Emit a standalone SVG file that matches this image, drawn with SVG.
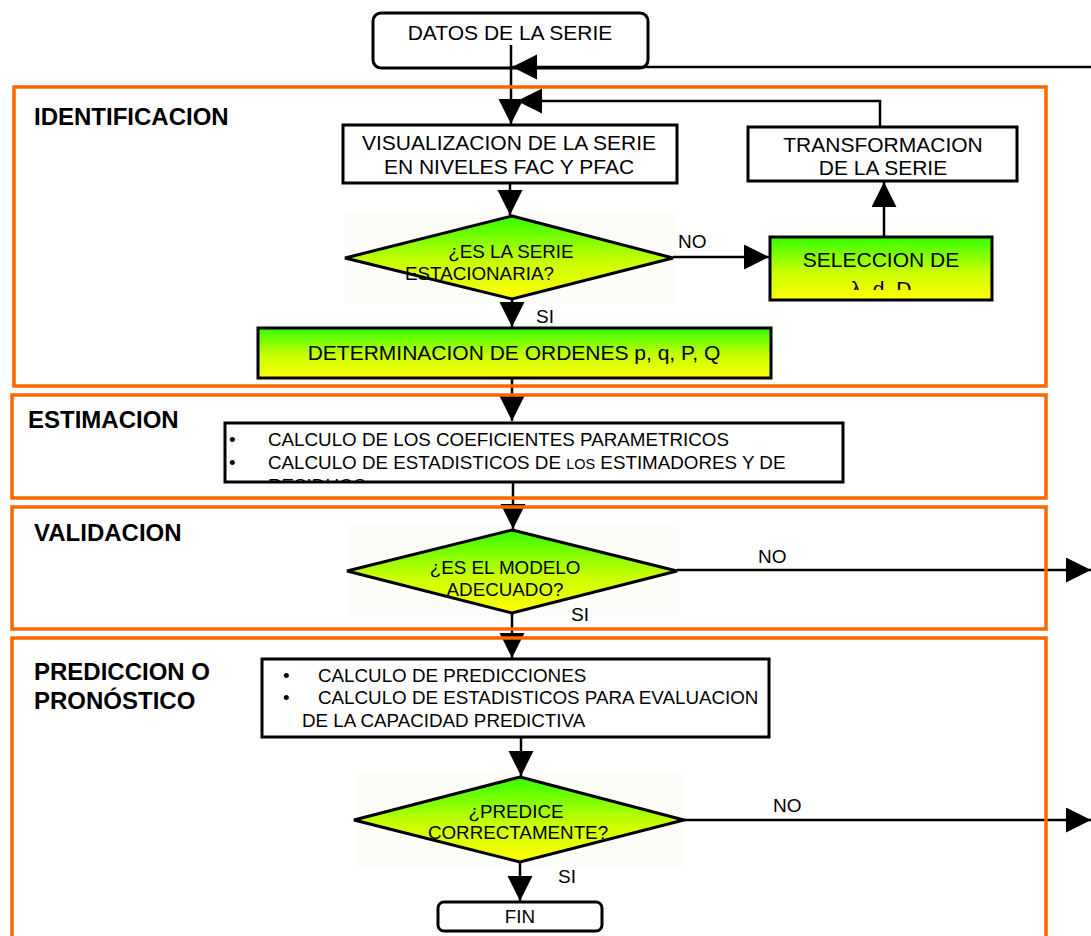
<svg xmlns="http://www.w3.org/2000/svg" width="1091" height="936" viewBox="0 0 1091 936">
<style>
.box{fill:#fff;stroke:#000;stroke-width:3}
.gy{fill:url(#gy);stroke:#000;stroke-width:3}
.lane{fill:none;stroke:#FF6600;stroke-width:3.5}
.ln{fill:none;stroke:#000;stroke-width:2.5}
.t{font-family:"Liberation Sans",Arial,sans-serif;font-size:21px;fill:#000}
.c{text-anchor:middle}
.s{font-size:18.8px}
.m{font-size:19px}
.h{font-weight:bold;font-size:24px}
.halo{fill:#fcfcf8}
</style>
<defs>
<linearGradient id="gy" x1="0" y1="0" x2="0" y2="1">
<stop offset="0" stop-color="#33ff00"/>
<stop offset="0.55" stop-color="#c8ff00"/>
<stop offset="1" stop-color="#ffff00"/>
</linearGradient>
<marker id="ah" markerUnits="userSpaceOnUse" markerWidth="26" markerHeight="26" refX="25" refY="12.5" orient="auto" viewBox="0 0 26 26">
<path d="M0,0 L25,12.5 L0,25 Z" fill="#000"/>
</marker>
<clipPath id="clipSel"><rect x="770" y="237" width="222" height="53"/></clipPath>
<clipPath id="clipEst"><rect x="226" y="424" width="616" height="57"/></clipPath>
</defs>

<g id="bg">
<rect class="halo" x="345" y="212" width="330" height="92"/>
<rect class="halo" x="347" y="526" width="332" height="90"/>
<rect class="halo" x="354" y="774" width="332" height="92"/>
</g>

<g id="lane-labels">
<text class="t h" x="34" y="125">IDENTIFICACION</text>
<text class="t h" x="28" y="428">ESTIMACION</text>
<text class="t h" x="34" y="541">VALIDACION</text>
<text class="t h" x="34" y="680">PREDICCION O</text>
<text class="t h" x="34" y="709">PRONÓSTICO</text>
</g>

<g id="datos">
<rect class="box" x="373" y="13" width="275" height="55" rx="8"/>
<text class="t c" x="510" y="40">DATOS DE LA SERIE</text>
</g>

<g id="visualizacion">
<rect class="box" x="343" y="125" width="334" height="58"/>
<text class="t c" x="509" y="150">VISUALIZACION DE LA SERIE</text>
<text class="t c" x="509" y="174">EN NIVELES FAC Y PFAC</text>
</g>

<g id="transformacion">
<rect class="box" x="748" y="127" width="269" height="54"/>
<text class="t c" x="883" y="152">TRANSFORMACION</text>
<text class="t c" x="883" y="175">DE LA SERIE</text>
</g>

<g id="estacionaria">
<polygon class="gy" points="512,216 673,258 512,299 345,258"/>
<text class="t s c" x="511" y="258">¿ES LA SERIE</text>
<text class="t s" x="405" y="280">ESTACIONARIA?</text>
</g>

<g id="seleccion">
<rect class="gy" x="770" y="237" width="222" height="63"/>
<text class="t c" x="881" y="267">SELECCION DE</text>
<text class="t c" x="881" y="296" clip-path="url(#clipSel)">λ, d, D</text>
</g>

<g id="determinacion">
<rect class="gy" x="258" y="328" width="513" height="50"/>
<text class="t c" x="514" y="360">DETERMINACION DE ORDENES p, q, P, Q</text>
</g>

<g id="estimacion">
<rect class="box" x="225" y="423" width="618" height="59"/>
<text class="t s" x="229" y="446">•</text>
<text class="t s" x="268" y="446">CALCULO DE LOS COEFICIENTES PARAMETRICOS</text>
<text class="t s" x="229" y="469">•</text>
<text class="t s" x="268" y="469">CALCULO DE ESTADISTICOS DE <tspan font-size="14.5">LOS</tspan> ESTIMADORES Y DE</text>
<text class="t s" x="268" y="492" clip-path="url(#clipEst)">RESIDUOS</text>
</g>

<g id="modelo">
<polygon class="gy" points="512,530 677,571 512,613 347,571"/>
<text class="t s c" x="505" y="574">¿ES EL MODELO</text>
<text class="t s c" x="505" y="596">ADECUADO?</text>
</g>

<g id="prediccion">
<rect class="box" x="262" y="659" width="507" height="78"/>
<text class="t s" x="283" y="682">•</text>
<text class="t s" x="318" y="682">CALCULO DE PREDICCIONES</text>
<text class="t s" x="283" y="704">•</text>
<text class="t s" x="318" y="704">CALCULO DE ESTADISTICOS PARA EVALUACION</text>
<text class="t s" x="302" y="727">DE LA CAPACIDAD PREDICTIVA</text>
</g>

<g id="predice">
<polygon class="gy" points="520,777 684,820 520,862 354,820"/>
<text class="t s c" x="516" y="818">¿PREDICE</text>
<text class="t s c" x="518" y="839">CORRECTAMENTE?</text>
</g>

<g id="fin">
<rect class="box" x="438" y="902" width="164" height="29" rx="6"/>
<text class="t s c" x="520" y="923">FIN</text>
</g>

<g id="connectors">
<path class="ln" d="M511,45 V124" marker-end="url(#ah)"/>
<path class="ln" d="M1091,67 H512" marker-end="url(#ah)"/>
<path class="ln" d="M880,127 V101 H517" marker-end="url(#ah)"/>
<path class="ln" d="M510,183 V215" marker-end="url(#ah)"/>
<path class="ln" d="M673,257 H769" marker-end="url(#ah)"/>
<path class="ln" d="M884,237 V182" marker-end="url(#ah)"/>
<path class="ln" d="M512,299 V327" marker-end="url(#ah)"/>
<path class="ln" d="M512,379 V421" marker-end="url(#ah)"/>
<path class="ln" d="M513,482 V529" marker-end="url(#ah)"/>
<path class="ln" d="M512,613 V658" marker-end="url(#ah)"/>
<path class="ln" d="M521,737 V776" marker-end="url(#ah)"/>
<path class="ln" d="M677,570 H1091" marker-end="url(#ah)"/>
<path class="ln" d="M684,820 H1091" marker-end="url(#ah)"/>
<path class="ln" d="M520,862 V901" marker-end="url(#ah)"/>
<text class="t m" x="678" y="248">NO</text>
<text class="t m" x="536" y="323">SI</text>
<text class="t m" x="758" y="563">NO</text>
<text class="t m" x="571" y="621">SI</text>
<text class="t m" x="773" y="812">NO</text>
<text class="t m" x="558" y="883">SI</text>
</g>

<g id="lanes">
<rect class="lane" x="14" y="87" width="1032" height="299"/>
<rect class="lane" x="12" y="395" width="1034" height="103"/>
<rect class="lane" x="12" y="507" width="1034" height="122"/>
<rect class="lane" x="12" y="638" width="1034" height="330"/>
</g>
</svg>
